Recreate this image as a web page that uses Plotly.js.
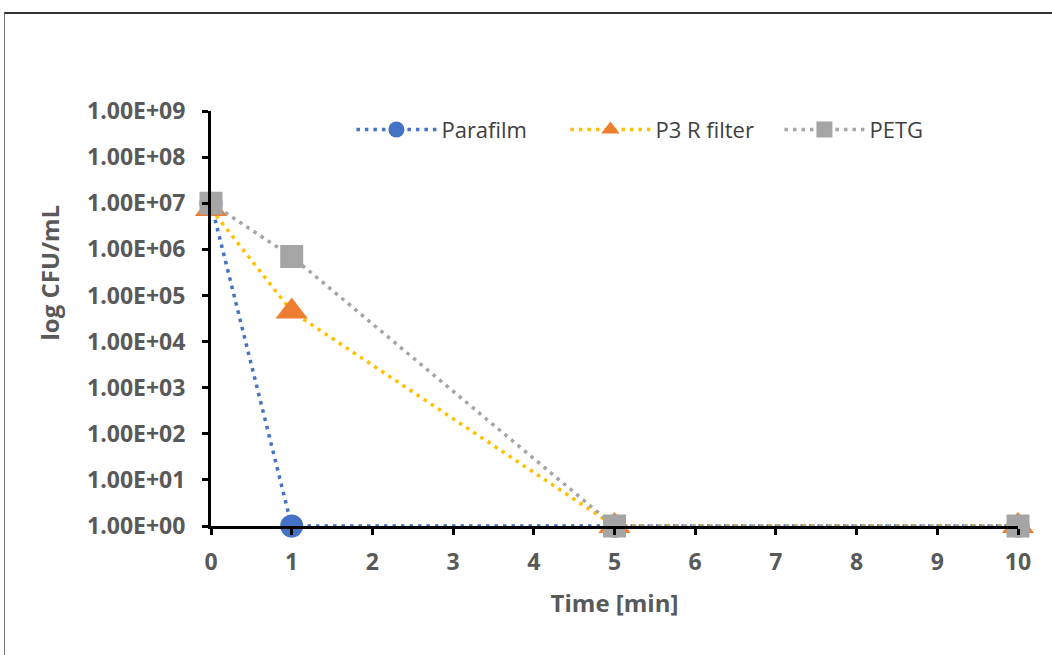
<!DOCTYPE html>
<html>
<head>
<meta charset="utf-8">
<script src="https://cdn.plot.ly/plotly-3.0.1.min.js"></script>
<style>
html,body{margin:0;padding:0;background:#fff;}
#chart{width:1052px;height:655px;position:relative;}
#frame{position:absolute;left:4px;top:12px;width:1060px;height:660px;border-top:2px solid #333;border-left:1.5px solid #777;pointer-events:none;}
</style>
</head>
<body>
<div id="chart"></div>
<div id="frame"></div>
<script>
var timeMin = [0, 1, 5, 10];
var seriesNames = ["Parafilm", "P3 R filter", "PETG"];
var parafilm = [1e7, 1, 1, 1];
var p3rFilter = [7.5e6, 4.5e4, 1, 1];
var petg = [1e7, 7e5, 1, 1];
var yTickVals = [1, 1e1, 1e2, 1e3, 1e4, 1e5, 1e6, 1e7, 1e8, 1e9];
var yTickText = ["1.00E+00","1.00E+01","1.00E+02","1.00E+03","1.00E+04","1.00E+05","1.00E+06","1.00E+07","1.00E+08","1.00E+09"];
var xTickVals = [0,1,2,3,4,5,6,7,8,9,10];

var lineColors = ["#4472C4", "#FFC000", "#A5A5A5"];
var markerColors = ["#4472C4", "#ED7D31", "#A5A5A5"];
var symbols = ["circle", "triangle-up", "square"];
var sizes = [23, 28, 23];
var ys = [parafilm, p3rFilter, petg];

var traces = ys.map(function(y, i){
  return {
    x: timeMin, y: y, name: seriesNames[i], type: "scatter", mode: "lines+markers",
    line: {color: lineColors[i], width: 3.5, dash: "3.5px,5px"},
    marker: {color: markerColors[i], symbol: symbols[i], size: sizes[i], line: {width: 0}},
    cliponaxis: false
  };
});

var fam = "Open Sans, sans-serif";
var tickFont = {family: fam, size: 23, color: "#595959", weight: "bold"};
var titleFont = {family: fam, size: 24, color: "#595959", weight: "bold"};
var layout = {
  width: 1052, height: 655,
  margin: {l: 211, r: 34, t: 111, b: 129},
  paper_bgcolor: "#fff", plot_bgcolor: "#fff",
  showlegend: true,
  legend: {orientation: "h", x: 0.174, xanchor: "left", y: 0.955, yanchor: "middle",
    font: {family: fam, size: 22, color: "#404040"}, itemwidth: 80,
    entrywidth: 119, entrywidthmode: "pixels", bgcolor: "rgba(0,0,0,0)"},
  xaxis: {
    range: [0, 10], tickvals: xTickVals, showgrid: false, zeroline: false,
    showline: true, linecolor: "#000", linewidth: 3,
    ticks: "outside", ticklen: 6, tickwidth: 3, tickcolor: "#000",
    tickfont: tickFont, ticklabelstandoff: 7,
    title: {text: "Time [min]", font: titleFont, standoff: 20}
  },
  yaxis: {
    type: "log", range: [0, 9], tickvals: yTickVals, ticktext: yTickText, showgrid: false, zeroline: false,
    showline: true, linecolor: "#000", linewidth: 3,
    ticks: "outside", ticklen: 6, tickwidth: 3, tickcolor: "#000",
    tickfont: tickFont, ticklabelstandoff: 12
  },
  annotations: [{
    text: "log CFU/mL", xref: "paper", yref: "paper", x: -0.2, y: 0.61,
    xanchor: "center", yanchor: "middle", textangle: -90, showarrow: false, font: titleFont
  }]
};
Plotly.newPlot("chart", traces, layout, {displayModeBar: false, staticPlot: true});
</script>
</body>
</html>
